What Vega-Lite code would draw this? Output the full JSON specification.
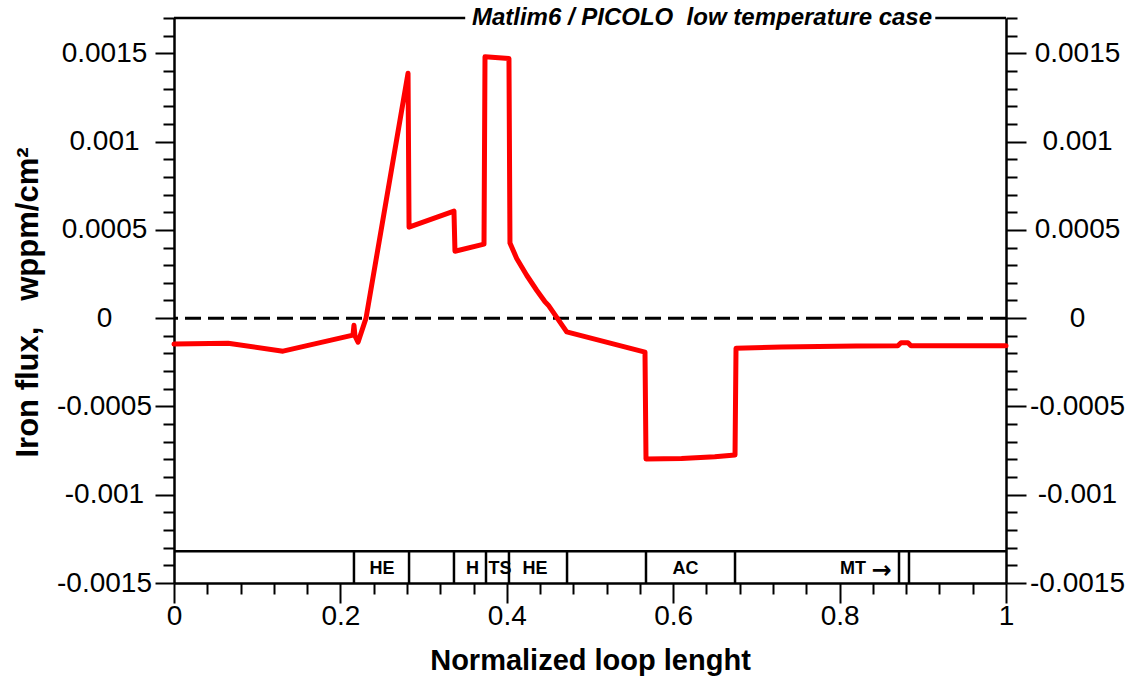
{
  "$schema": "https://vega.github.io/schema/vega-lite/v6.json",
  "width": 832,
  "height": 565,
  "autosize": "none",
  "padding": {"left": 174, "top": 18, "right": 131, "bottom": 96},
  "config": {
    "view": {"stroke": null},
    "font": "Liberation Sans",
    "axis": {"grid": false, "labelFont": "Liberation Sans", "titleFont": "Liberation Sans", "labelColor": "black", "titleColor": "black", "tickColor": "black", "domainColor": "black", "tickWidth": 2, "domainWidth": 2.5, "labelFlush": false, "labelOverlap": false, "labelBound": false}
  },
  "datasets": {
    "curve": [
      {"x": 0, "y": -0.000147},
      {"x": 0.065, "y": -0.000142},
      {"x": 0.131, "y": -0.000187},
      {"x": 0.2151, "y": -0.000096},
      {"x": 0.2163, "y": -0.00004},
      {"x": 0.2175, "y": -0.0001},
      {"x": 0.2212, "y": -0.000136},
      {"x": 0.2308, "y": 0.0},
      {"x": 0.2813, "y": 0.001387},
      {"x": 0.2825, "y": 0.000515},
      {"x": 0.3365, "y": 0.000606},
      {"x": 0.3377, "y": 0.000379},
      {"x": 0.3726, "y": 0.000419},
      {"x": 0.3738, "y": 0.00148},
      {"x": 0.4026, "y": 0.00147},
      {"x": 0.4038, "y": 0.000425},
      {"x": 0.4119, "y": 0.000338},
      {"x": 0.4239, "y": 0.000243},
      {"x": 0.4359, "y": 0.000158},
      {"x": 0.4459, "y": 0.0000925},
      {"x": 0.4499, "y": 0.0000736},
      {"x": 0.472, "y": -0.0000775},
      {"x": 0.5661, "y": -0.000192},
      {"x": 0.5673, "y": -0.000798},
      {"x": 0.61, "y": -0.000795},
      {"x": 0.65, "y": -0.000785},
      {"x": 0.6743, "y": -0.000775},
      {"x": 0.6755, "y": -0.00017},
      {"x": 0.73, "y": -0.000164},
      {"x": 0.82, "y": -0.000158},
      {"x": 0.87, "y": -0.000156},
      {"x": 0.8738, "y": -0.000139},
      {"x": 0.8822, "y": -0.000139},
      {"x": 0.8858, "y": -0.000156},
      {"x": 1, "y": -0.000156}
    ],
    "dividers": [
      {"x": 0.2163}, {"x": 0.2825}, {"x": 0.3365}, {"x": 0.375}, {"x": 0.4026},
      {"x": 0.4724}, {"x": 0.5673}, {"x": 0.6743}, {"x": 0.8714}, {"x": 0.8834}
    ],
    "zones": [
      {"x": 0.25, "label": "HE"},
      {"x": 0.3588, "label": "H"},
      {"x": 0.3918, "label": "TS"},
      {"x": 0.4339, "label": "HE"},
      {"x": 0.6148, "label": "AC"}
    ],
    "zonesRight": [
      {"x": 0.8317, "label": "MT"}
    ],
    "arrow": [
      {"x": 0.8504, "label": "\u2192"}
    ],
    "frame": [
      {"x": 0, "x2": 0.35},
      {"x": 0.915, "x2": 1}
    ],
    "title": [
      {"x": 0.6346, "t": "Matlim6 / PICOLO\u00a0 low temperature case"}
    ]
  },
  "layer": [
    {
      "data": {"values": [{}]},
      "mark": {"type": "rule", "color": "black", "strokeWidth": 3, "strokeDash": [16, 7]},
      "encoding": {
        "y": {"datum": 0, "type": "quantitative", "scale": {"domain": [-0.0015, 0.0017], "nice": false, "zero": false},
          "axis": {"orient": "left", "values": [-0.0014, -0.0013, -0.0012, -0.0011, -0.0009, -0.0008, -0.0007, -0.0006, -0.0004, -0.0003, -0.0002, -0.0001, 0.0001, 0.0002, 0.0003, 0.0004, 0.0006, 0.0007, 0.0008, 0.0009, 0.0011, 0.0012, 0.0013, 0.0014, 0.0016, 0.0017], "tickSize": 11, "labels": false, "domain": false, "title": null}}
      }
    },
    {
      "data": {"name": "curve"},
      "mark": {"type": "line", "color": "#ff0000", "strokeWidth": 5, "strokeJoin": "round", "strokeCap": "round"},
      "encoding": {
        "x": {"field": "x", "type": "quantitative", "scale": {"domain": [0, 1], "nice": false, "zero": false},
          "axis": {"orient": "bottom", "values": [0, 0.2, 0.4, 0.6, 0.8, 1], "tickSize": 20, "labelFontSize": 28, "labelPadding": -1, "labelBaseline": "top", "labelExpr": "'' + datum.value", "title": "Normalized loop lenght", "titleFontSize": 29, "titleFontWeight": "bold", "titleY": 77, "titleBaseline": "middle"}},
        "y": {"field": "y", "type": "quantitative", "scale": {"domain": [-0.0015, 0.0017], "nice": false, "zero": false},
          "axis": {"orient": "left", "values": [-0.0015, -0.001, -0.0005, 0, 0.0005, 0.001, 0.0015], "tickSize": 19, "labelFontSize": 28, "labelAlign": "center", "labelBaseline": "middle", "labelPadding": 51, "labelExpr": "'' + datum.value", "title": "Iron flux,\u00a0\u00a0 wppm/cm\u00b2", "titleFontSize": 31, "titleFontWeight": "bold", "titleX": -146, "titleY": 284, "titleAngle": -90, "titleAlign": "center", "titleBaseline": "middle"}}
      }
    },
    {
      "data": {"name": "dividers"},
      "mark": {"type": "rule", "color": "black", "strokeWidth": 2.5},
      "encoding": {
        "x": {"field": "x", "type": "quantitative", "scale": {"domain": [0, 1], "nice": false, "zero": false},
          "axis": {"orient": "bottom", "values": [0.04, 0.08, 0.12, 0.16, 0.24, 0.28, 0.32, 0.36, 0.44, 0.48, 0.52, 0.56, 0.64, 0.68, 0.72, 0.76, 0.84, 0.88, 0.92, 0.96], "tickSize": 11, "labels": false, "domain": false, "title": null}},
        "y": {"datum": -0.0015, "type": "quantitative", "scale": {"domain": [-0.0015, 0.0017], "nice": false, "zero": false},
          "axis": {"orient": "right", "values": [-0.0015, -0.001, -0.0005, 0, 0.0005, 0.001, 0.0015], "tickSize": 20, "labelFontSize": 28, "labelAlign": "center", "labelBaseline": "middle", "labelPadding": 51, "labelExpr": "'' + datum.value", "title": null}},
        "y2": {"datum": -0.00132}
      }
    },
    {
      "data": {"name": "zones"},
      "mark": {"type": "text", "color": "black", "font": "Liberation Sans", "fontWeight": "bold", "fontSize": 18, "align": "center", "baseline": "middle"},
      "encoding": {
        "x": {"field": "x", "type": "quantitative", "scale": {"domain": [0, 1], "nice": false, "zero": false}, "axis": null},
        "y": {"datum": -0.00142, "type": "quantitative", "scale": {"domain": [-0.0015, 0.0017], "nice": false, "zero": false},
          "axis": {"orient": "right", "values": [-0.0014, -0.0013, -0.0012, -0.0011, -0.0009, -0.0008, -0.0007, -0.0006, -0.0004, -0.0003, -0.0002, -0.0001, 0.0001, 0.0002, 0.0003, 0.0004, 0.0006, 0.0007, 0.0008, 0.0009, 0.0011, 0.0012, 0.0013, 0.0014, 0.0016, 0.0017], "tickSize": 11, "labels": false, "domain": false, "title": null}},
        "text": {"field": "label"}
      }
    },
    {
      "data": {"name": "zonesRight"},
      "mark": {"type": "text", "color": "black", "font": "Liberation Sans", "fontWeight": "bold", "fontSize": 18, "align": "right", "baseline": "middle"},
      "encoding": {
        "x": {"field": "x", "type": "quantitative", "scale": {"domain": [0, 1], "nice": false, "zero": false}, "axis": null},
        "y": {"datum": -0.00142, "type": "quantitative", "scale": {"domain": [-0.0015, 0.0017], "nice": false, "zero": false}, "axis": null},
        "text": {"field": "label"}
      }
    },
    {
      "data": {"name": "arrow"},
      "mark": {"type": "text", "color": "black", "font": "DejaVu Sans", "fontWeight": "bold", "fontSize": 24, "align": "center", "baseline": "middle"},
      "encoding": {
        "x": {"field": "x", "type": "quantitative", "scale": {"domain": [0, 1], "nice": false, "zero": false}, "axis": null},
        "y": {"datum": -0.00143, "type": "quantitative", "scale": {"domain": [-0.0015, 0.0017], "nice": false, "zero": false}, "axis": null},
        "text": {"field": "label"}
      }
    },
    {
      "data": {"values": [{}]},
      "mark": {"type": "rule", "color": "black", "strokeWidth": 2.5},
      "encoding": {
        "x": {"datum": 0, "type": "quantitative", "scale": {"domain": [0, 1], "nice": false, "zero": false}, "axis": null},
        "x2": {"datum": 1},
        "y": {"datum": -0.00132, "type": "quantitative", "scale": {"domain": [-0.0015, 0.0017], "nice": false, "zero": false}, "axis": null}
      }
    },
    {
      "data": {"name": "frame"},
      "mark": {"type": "rule", "color": "black", "strokeWidth": 2.5},
      "encoding": {
        "x": {"field": "x", "type": "quantitative", "scale": {"domain": [0, 1], "nice": false, "zero": false}, "axis": null},
        "x2": {"field": "x2"},
        "y": {"datum": 0.0017, "type": "quantitative", "scale": {"domain": [-0.0015, 0.0017], "nice": false, "zero": false}, "axis": null}
      }
    },
    {
      "data": {"name": "title"},
      "mark": {"type": "text", "color": "black", "font": "Liberation Sans", "fontWeight": "bold", "fontStyle": "italic", "fontSize": 24, "align": "center", "baseline": "middle"},
      "encoding": {
        "x": {"field": "x", "type": "quantitative", "scale": {"domain": [0, 1], "nice": false, "zero": false}, "axis": null},
        "y": {"datum": 0.0017, "type": "quantitative", "scale": {"domain": [-0.0015, 0.0017], "nice": false, "zero": false}, "axis": null},
        "text": {"field": "t"}
      }
    }
  ],
  "resolve": {"axis": {"x": "independent", "y": "independent"}}
}
